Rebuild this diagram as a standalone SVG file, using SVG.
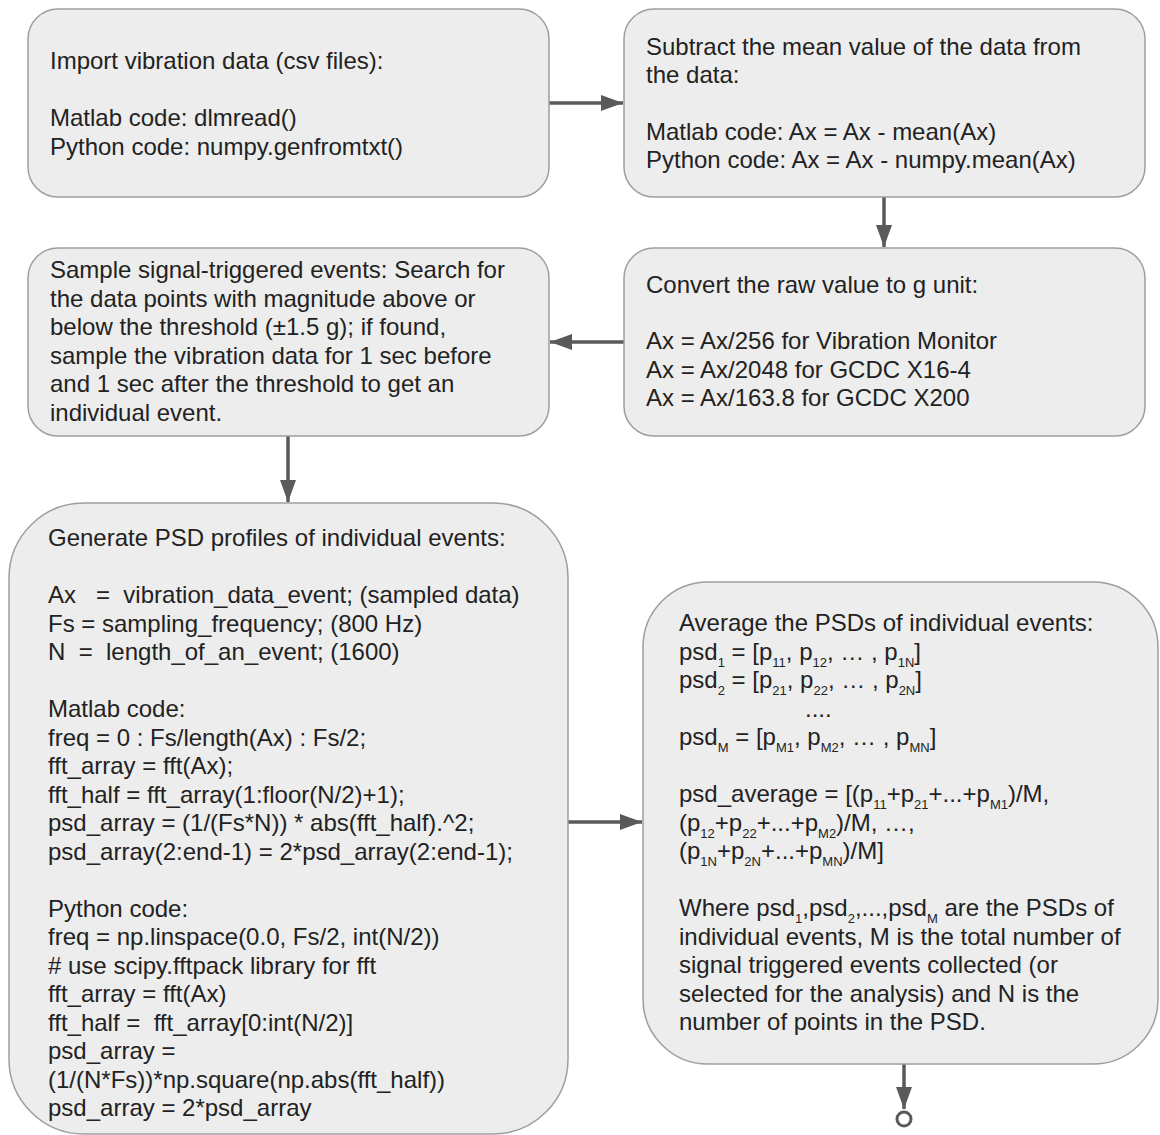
<svg xmlns="http://www.w3.org/2000/svg" width="1160" height="1135" viewBox="0 0 1160 1135">
<defs>
<style>
.box{fill:#ededed;stroke:#9e9e9e;stroke-width:1.5}
.t{font-family:"Liberation Sans",Arial,sans-serif;font-size:24px;fill:#222;white-space:pre}
.s{font-size:13px}
.c{stroke:#5a5a5a;stroke-width:3.5;fill:none}
</style>
<marker id="ah" markerUnits="userSpaceOnUse" markerWidth="24" markerHeight="18" refX="22" refY="8" orient="auto">
<path d="M0,0 L22,8 L0,16 Z" fill="#5a5a5a"/>
</marker>
</defs>
<rect width="1160" height="1135" fill="#ffffff"/>
<g id="connectors">
<line class="c" x1="549" y1="103" x2="623" y2="103" marker-end="url(#ah)"/>
<line class="c" x1="884" y1="197" x2="884" y2="247" marker-end="url(#ah)"/>
<line class="c" x1="624" y1="342" x2="550" y2="342" marker-end="url(#ah)"/>
<line class="c" x1="288" y1="436" x2="288" y2="502" marker-end="url(#ah)"/>
<line class="c" x1="568" y1="822" x2="642" y2="822" marker-end="url(#ah)"/>
<line class="c" x1="904" y1="1064" x2="904" y2="1109" marker-end="url(#ah)"/>
<circle cx="904" cy="1119" r="7" fill="#ffffff" stroke="#5a5a5a" stroke-width="3"/>
</g>
<g id="node-import">
<rect class="box" x="28" y="9" width="521" height="188" rx="30"/>
<text class="t" x="50" y="69">Import vibration data (csv files):</text>
<text class="t" x="50" y="126">Matlab code: dlmread()</text>
<text class="t" x="50" y="155">Python code: numpy.genfromtxt()</text>
</g>
<g id="node-subtract">
<rect class="box" x="624" y="9" width="521" height="188" rx="30"/>
<text class="t" x="646" y="55">Subtract the mean value of the data from</text>
<text class="t" x="646" y="83">the data:</text>
<text class="t" x="646" y="140">Matlab code: Ax = Ax - mean(Ax)</text>
<text class="t" x="646" y="168">Python code: Ax = Ax - numpy.mean(Ax)</text>
</g>
<g id="node-convert">
<rect class="box" x="624" y="248" width="521" height="188" rx="30"/>
<text class="t" x="646" y="293">Convert the raw value to g unit:</text>
<text class="t" x="646" y="349">Ax = Ax/256 for Vibration Monitor</text>
<text class="t" x="646" y="378">Ax = Ax/2048 for GCDC X16-4</text>
<text class="t" x="646" y="406">Ax = Ax/163.8 for GCDC X200</text>
</g>
<g id="node-sample">
<rect class="box" x="28" y="248" width="521" height="188" rx="30"/>
<text class="t" x="50" y="278">Sample signal-triggered events: Search for</text>
<text class="t" x="50" y="307">the data points with magnitude above or</text>
<text class="t" x="50" y="335">below the threshold (±1.5 g); if found,</text>
<text class="t" x="50" y="364">sample the vibration data for 1 sec before</text>
<text class="t" x="50" y="392">and 1 sec after the threshold to get an</text>
<text class="t" x="50" y="421">individual event.</text>
</g>
<g id="node-generate">
<rect class="box" x="9" y="503" width="559" height="631" rx="75"/>
<text class="t" x="48" y="546">Generate PSD profiles of individual events:</text>
<text class="t" x="48" y="603">Ax   =  vibration_data_event; (sampled data)</text>
<text class="t" x="48" y="631.5">Fs = sampling_frequency; (800 Hz)</text>
<text class="t" x="48" y="660">N  =  length_of_an_event; (1600)</text>
<text class="t" x="48" y="717">Matlab code:</text>
<text class="t" x="48" y="745.5">freq = 0 : Fs/length(Ax) : Fs/2;</text>
<text class="t" x="48" y="774">fft_array = fft(Ax);</text>
<text class="t" x="48" y="802.5">fft_half = fft_array(1:floor(N/2)+1);</text>
<text class="t" x="48" y="831">psd_array = (1/(Fs*N)) * abs(fft_half).^2;</text>
<text class="t" x="48" y="859.5">psd_array(2:end-1) = 2*psd_array(2:end-1);</text>
<text class="t" x="48" y="916.5">Python code:</text>
<text class="t" x="48" y="945">freq = np.linspace(0.0, Fs/2, int(N/2))</text>
<text class="t" x="48" y="973.5"># use scipy.fftpack library for fft</text>
<text class="t" x="48" y="1002">fft_array = fft(Ax)</text>
<text class="t" x="48" y="1030.5">fft_half =  fft_array[0:int(N/2)]</text>
<text class="t" x="48" y="1059">psd_array =</text>
<text class="t" x="48" y="1087.5">(1/(N*Fs))*np.square(np.abs(fft_half))</text>
<text class="t" x="48" y="1116">psd_array = 2*psd_array</text>
</g>
<g id="node-average">
<rect class="box" x="643" y="582" width="515" height="482" rx="65"/>
<text class="t" x="679" y="631">Average the PSDs of individual events:</text>
<text class="t" x="679" y="659.5">psd<tspan class="s" dy="7">1</tspan><tspan dy="-7"> = [p</tspan><tspan class="s" dy="7">11</tspan><tspan dy="-7">, p</tspan><tspan class="s" dy="7">12</tspan><tspan dy="-7">, … , p</tspan><tspan class="s" dy="7">1N</tspan><tspan dy="-7">]</tspan></text>
<text class="t" x="679" y="688">psd<tspan class="s" dy="7">2</tspan><tspan dy="-7"> = [p</tspan><tspan class="s" dy="7">21</tspan><tspan dy="-7">, p</tspan><tspan class="s" dy="7">22</tspan><tspan dy="-7">, … , p</tspan><tspan class="s" dy="7">2N</tspan><tspan dy="-7">]</tspan></text>
<text class="t" x="805" y="716.5">....</text>
<text class="t" x="679" y="745">psd<tspan class="s" dy="7">M</tspan><tspan dy="-7"> = [p</tspan><tspan class="s" dy="7">M1</tspan><tspan dy="-7">, p</tspan><tspan class="s" dy="7">M2</tspan><tspan dy="-7">, … , p</tspan><tspan class="s" dy="7">MN</tspan><tspan dy="-7">]</tspan></text>
<text class="t" x="679" y="802">psd_average = [(p<tspan class="s" dy="7">11</tspan><tspan dy="-7">+p</tspan><tspan class="s" dy="7">21</tspan><tspan dy="-7">+...+p</tspan><tspan class="s" dy="7">M1</tspan><tspan dy="-7">)/M,</tspan></text>
<text class="t" x="679" y="830.5">(p<tspan class="s" dy="7">12</tspan><tspan dy="-7">+p</tspan><tspan class="s" dy="7">22</tspan><tspan dy="-7">+...+p</tspan><tspan class="s" dy="7">M2</tspan><tspan dy="-7">)/M, …,</tspan></text>
<text class="t" x="679" y="859">(p<tspan class="s" dy="7">1N</tspan><tspan dy="-7">+p</tspan><tspan class="s" dy="7">2N</tspan><tspan dy="-7">+...+p</tspan><tspan class="s" dy="7">MN</tspan><tspan dy="-7">)/M]</tspan></text>
<text class="t" x="679" y="916">Where psd<tspan class="s" dy="7">1</tspan><tspan dy="-7">,psd</tspan><tspan class="s" dy="7">2</tspan><tspan dy="-7">,...,psd</tspan><tspan class="s" dy="7">M</tspan><tspan dy="-7"> are the PSDs of</tspan></text>
<text class="t" x="679" y="944.5">individual events, M is the total number of</text>
<text class="t" x="679" y="973">signal triggered events collected (or</text>
<text class="t" x="679" y="1001.5">selected for the analysis) and N is the</text>
<text class="t" x="679" y="1030">number of points in the PSD.</text>
</g>
</svg>
